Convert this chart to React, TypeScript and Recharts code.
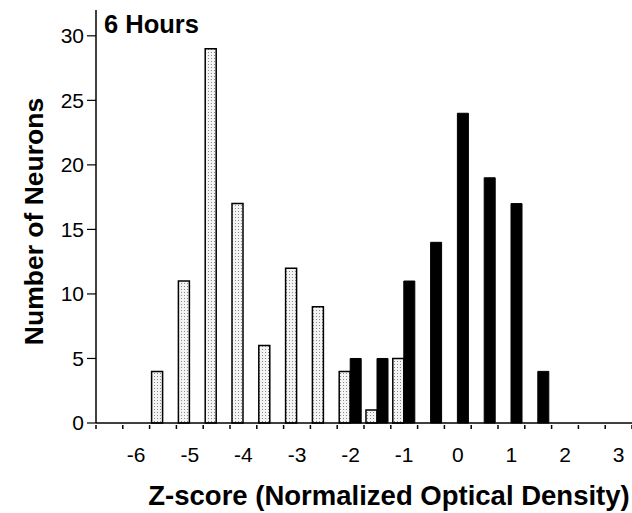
import React from 'react';
import { BarChart, Bar, XAxis, YAxis, Label } from 'recharts';

// Z-score bin centres (0.5 wide bins)
const bins = [
  '-6.5', '-6', '-5.5', '-5', '-4.5', '-4', '-3.5', '-3', '-2.5', '-2',
  '-1.5', '-1', '-0.5', '0', '0.5', '1', '1.5', '2', '2.5', '3',
];

// stippled bars (left in each bin)
const stippledCounts = [
  null, null, 4, 11, 29, 17, 6, 12, 9, 4,
  1, 5, null, null, null, null, null, null, null, null,
];

// solid black bars (right in each bin)
const blackCounts = [
  null, null, null, null, null, null, null, null, null, 5,
  5, 11, 14, 24, 19, 17, 4, null, null, null,
];

const yTicks = [0, 5, 10, 15, 20, 25, 30];

const data = bins.map((bin, i) => ({
  bin,
  stippled: stippledCounts[i],
  black: blackCounts[i],
}));

const FONT = '"Liberation Sans", Arial, Helvetica, sans-serif';

// tick marks sit on the bin edges, labels only under whole numbers
// eslint-disable-next-line @typescript-eslint/no-explicit-any
const BinTick = ({ x, y, payload, index, width }: any) => {
  const half = payload?.offset || width / bins.length / 2;
  const isLast = index === bins.length - 1;
  const value = String(payload.value);
  return (
    <g>
      <line x1={x - half} y1={y} x2={x - half} y2={y + 4} stroke="#000" strokeWidth={1.5} />
      {isLast && (
        <line x1={x + half} y1={y} x2={x + half} y2={y + 4} stroke="#000" strokeWidth={1.5} />
      )}
      {Number.isInteger(Number(value)) && (
        <text
          x={x}
          y={y + 22}
          dy="0.71em"
          textAnchor="middle"
          fontFamily={FONT}
          fontSize={21}
          fill="#000"
        >
          {value}
        </text>
      )}
    </g>
  );
};

// eslint-disable-next-line @typescript-eslint/no-explicit-any
const YTitle = ({ viewBox }: any) => {
  const cx = viewBox.x + 33.5;
  const cy = viewBox.y + viewBox.height / 2 + 5;
  return (
    <text
      x={cx}
      y={cy}
      transform={`rotate(-90, ${cx}, ${cy})`}
      textAnchor="middle"
      dominantBaseline="central"
      fontFamily={FONT}
      fontWeight="bold"
      fontSize={26.5}
      fill="#000"
    >
      Number of Neurons
    </text>
  );
};

// eslint-disable-next-line @typescript-eslint/no-explicit-any
const XTitle = ({ viewBox }: any) => (
  <text
    x={viewBox.x + viewBox.width / 2 + 25}
    y={viewBox.y + 82}
    textAnchor="middle"
    fontFamily={FONT}
    fontWeight="bold"
    fontSize={27.5}
    fill="#000"
  >
    Z-score (Normalized Optical Density)
  </text>
);

export default function App() {
  return (
    <div style={{ position: 'absolute', left: 0, top: 0, width: 632, height: 513, background: '#fff' }}>
      <BarChart
        width={632}
        height={513}
        data={data}
        margin={{ top: 10, right: 0, left: 0, bottom: 0 }}
        barCategoryGap={2}
        barGap={0}
      >
        <defs>
          <pattern id="stipple" width="3" height="3" patternUnits="userSpaceOnUse">
            <rect width="3" height="3" fill="#f4f4f4" />
            <rect x="1" y="1" width="1" height="1" fill="#8a8a8a" />
          </pattern>
        </defs>

        <XAxis
          dataKey="bin"
          height={90}
          interval={0}
          axisLine={{ stroke: '#000', strokeWidth: 1.5 }}
          tickLine={false}
          tickSize={0}
          tick={<BinTick />}
        >
          <Label content={<XTitle />} />
        </XAxis>
        <YAxis
          width={96}
          domain={[0, 32]}
          ticks={yTicks}
          interval={0}
          axisLine={{ stroke: '#000', strokeWidth: 1.5 }}
          tickLine={{ stroke: '#000', strokeWidth: 1.2 }}
          tickSize={9}
          tickMargin={3}
          tick={{ fill: '#000', fontSize: 21, fontFamily: FONT }}
        >
          <Label content={<YTitle />} />
        </YAxis>

        <Bar
          dataKey="stippled"
          name="Stippled"
          fill="url(#stipple)"
          stroke="#000"
          strokeWidth={1.5}
          isAnimationActive={false}
        />
        <Bar
          dataKey="black"
          name="Black"
          fill="#000"
          stroke="#000"
          strokeWidth={1}
          isAnimationActive={false}
        />
      </BarChart>
      <div
        style={{
          position: 'absolute',
          left: 104,
          top: 12,
          fontFamily: FONT,
          fontWeight: 'bold',
          fontSize: 25.5,
          lineHeight: 1,
          color: '#000',
          whiteSpace: 'nowrap',
        }}
      >
        6 Hours
      </div>
    </div>
  );
}
